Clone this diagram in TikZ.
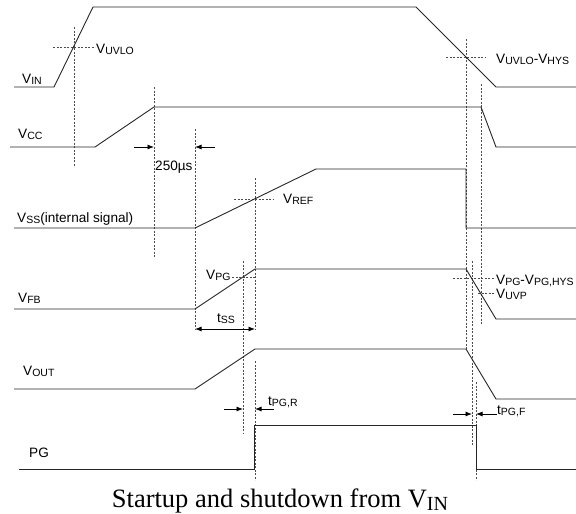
\documentclass[tikz,border=0pt]{standalone}
\usepackage{fontspec}
\setmainfont{Liberation Serif}
\newfontfamily\arialfont{Liberation Sans}
\usetikzlibrary{arrows.meta}
\newcommand\lsub[1]{\raisebox{-1.5pt}{\fontsize{10.5}{10.5}\selectfont #1}}
\newcommand\csub[1]{\raisebox{-3pt}{\fontsize{20}{20}\selectfont #1}}
\tikzset{
  wave/.style={line width=0.9pt, color=black!85},
  guide/.style={line width=0.75pt, color=black!70, dash pattern=on 2.2pt off 1.3pt},
  dimarrow/.style={line width=0.8pt, -{Latex[length=6.5pt,width=5pt]}},
  lbl/.style={anchor=base west, inner sep=0pt, font=\arialfont\fontsize{13.6}{13.6}\selectfont},
}
\begin{document}
\begin{tikzpicture}[x=1pt,y=-1pt]
\useasboundingbox (0,0) rectangle (576,514);
% ---------- guide lines (vertical) ----------
\draw[guide] (74,27) -- (74,167);
\draw[guide] (154,87) -- (154,258);
\draw[guide] (195,129) -- (195,330);
\draw[guide] (255,178) -- (255,330);
\draw[guide] (243,261) -- (243,433);
\draw[guide] (255,361) -- (255,480);
\draw[guide] (466,39) -- (466,350);
\draw[guide] (481,84) -- (481,325);
\draw[guide] (472,261) -- (472,445);
\draw[guide] (476,382) -- (476,480);
% ---------- guide lines (horizontal) ----------
\draw[guide] (53,47) -- (95,47);
\draw[guide] (446,57) -- (486,57);
\draw[guide] (234,199) -- (273,199);
\draw[guide] (232,277) -- (255,277);
\draw[guide] (453,278) -- (495,278);
\draw[guide] (478,293) -- (495,293);
% ---------- waveforms ----------
\draw[wave] (14,87) -- (54,87) -- (93,7) -- (416,7) -- (496,87) -- (576,87);
\draw[wave] (10,147) -- (95,147) -- (154,107) -- (481,107) -- (496,147) -- (576,147);
\draw[wave] (14,228) -- (195,228) -- (316,169) -- (466,169) -- (466,228) -- (576,228);
\draw[wave] (14,309) -- (195,309) -- (255,269) -- (466,269) -- (496,319) -- (576,319);
\draw[wave] (14,389) -- (195,389) -- (255,349) -- (466,349) -- (496,399) -- (576,399);
\draw[wave] (19,469) -- (254,469) -- (254,425) -- (476,425) -- (476,469) -- (576,469);
% ---------- dimension arrows ----------
\coordinate (a1s) at (134,147); \coordinate (a1e) at (154,147);
\coordinate (a2s) at (215,147); \coordinate (a2e) at (195,147);
\draw[dimarrow] (a1s) -- (a1e);
\draw[dimarrow] (a2s) -- (a2e);
\coordinate (tss1) at (195,329); \coordinate (tss2) at (255,329);
\draw[line width=0.8pt, {Latex[length=6.5pt,width=5pt]}-{Latex[length=6.5pt,width=5pt]}] (tss1) -- (tss2);
\coordinate (r1s) at (224,409); \coordinate (r1e) at (243,409);
\coordinate (r2s) at (274,409); \coordinate (r2e) at (255,409);
\draw[dimarrow] (r1s) -- (r1e);
\draw[dimarrow] (r2s) -- (r2e);
\coordinate (f1s) at (453,414); \coordinate (f1e) at (472,414);
\coordinate (f2s) at (497,414); \coordinate (f2e) at (476,414);
\draw[dimarrow] (f1s) -- (f1e);
\draw[dimarrow] (f2s) -- (f2e);
% ---------- labels ----------
\node[lbl] (vin) at (22,83) {V\lsub{IN}};
\node[lbl] (vuvlo) at (96,53) {V\lsub{UVLO}};
\node[lbl] (vhys) at (496,63) {V\lsub{UVLO}-V\lsub{HYS}};
\node[lbl] (vcc) at (18,138) {V\lsub{CC}};
\node[lbl] (t250) at (155,170) {250µs};
\node[lbl] (vss) at (17,222) {V\lsub{SS}(internal signal)};
\node[lbl] (vref) at (283,203) {V\lsub{REF}};
\node[lbl] (vpg) at (206,279) {V\lsub{PG}};
\node[lbl] (vfb) at (18,302) {V\lsub{FB}};
\node[lbl] (tss) at (217,322) {t\lsub{SS}};
\node[lbl] (vpghys) at (496,284) {V\lsub{PG}-V\lsub{PG,HYS}};
\node[lbl] (vuvp) at (496,298) {V\lsub{UVP}};
\node[lbl] (vout) at (23,375) {V\lsub{OUT}};
\node[lbl] (tpgr) at (268,405) {t\lsub{PG,R}};
\node[lbl] (pg) at (29,457) {PG};
\node[lbl] (tpgf) at (497,414) {t\lsub{PG,F}};
\node[anchor=base, inner sep=0pt, font=\fontsize{26.5}{26.5}\selectfont] (cap) at (280,507) {Startup and shutdown from V\csub{IN}};
\end{tikzpicture}
\end{document}
